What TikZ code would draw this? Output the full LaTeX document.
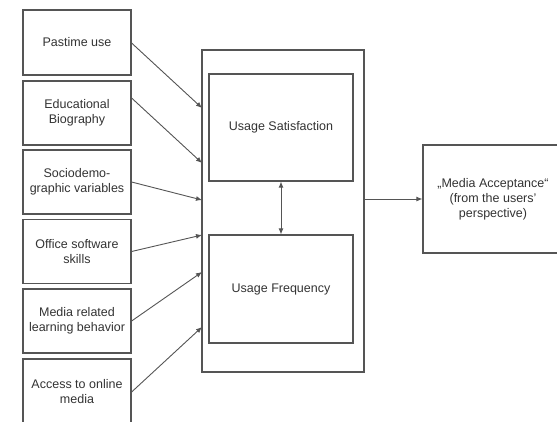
\documentclass[tikz,border=0pt]{standalone}
\usepackage{fontspec}
\setmainfont{Liberation Sans}
\usetikzlibrary{arrows.meta,calc}
\definecolor{ln}{HTML}{555555}
\definecolor{tx}{HTML}{333333}
\begin{document}
\begin{tikzpicture}[x=1pt,y=-1pt,
  box/.style={draw=ln,line width=1.2pt,rectangle,inner sep=0pt,align=center,
    text=tx,font=\fontsize{12.5}{15}\selectfont},
  leftbox/.style={box,minimum width=108pt,minimum height=64pt},
  conn/.style={draw=ln,line width=0.9pt,-{Latex[length=6pt,width=5pt]}},
  dconn/.style={draw=ln,line width=0.9pt,{Latex[length=6pt,width=5pt]}-{Latex[length=6pt,width=5pt]}}]
\useasboundingbox (0,0) rectangle (557,421);
\clip (0,0) rectangle (557,421);
\fill[white] (0,0) rectangle (557,421);
% left boxes
\node[leftbox,minimum height=65pt] (b1) at (77,42.5) {Pastime use};
\node[leftbox] (b2) at (77,113) {Educational\\Biography};
\node[leftbox] (b3) at (77,182) {Sociodemo-\\graphic variables};
\node[leftbox] (b4) at (77,251.5) {Office software\\skills};
\node[leftbox] (b5) at (77,321) {Media related\\learning behavior};
\node[leftbox,minimum height=66pt] (b6) at (77,392) {Access to online\\media};
% central boxes
\node[box,minimum width=162pt,minimum height=322pt] (outer) at (283,211) {};
\node[box,minimum width=144pt,minimum height=107pt] (sat) at (281,127.5) {Usage Satisfaction};
\node[box,minimum width=144pt,minimum height=108pt] (freq) at (281,289) {Usage Frequency};
\node[box,minimum width=140pt,minimum height=108pt] (media) at (493,199) {„Media Acceptance“\\(from the users’\\perspective)};
% entry points on the outer box
\coordinate (e1) at (202,108);
\coordinate (e2) at (202,163);
\coordinate (e3) at (202,200);
\coordinate (e4) at (202,235);
\coordinate (e5) at (202,272);
\coordinate (e6) at (202,327);
\draw[conn] ([yshift=-0.5pt]b1.east) -- (e1);
\draw[conn] ([yshift=15pt]b2.east) -- (e2);
\draw[conn] (b3.east) -- (e3);
\draw[conn] (b4.east) -- (e4);
\draw[conn] (b5.east) -- (e5);
\draw[conn] (b6.east) -- (e6);
\draw[dconn] (sat.south) -- (freq.north);
\draw[conn] (outer.east |- media.west) -- (media.west);
\end{tikzpicture}
\end{document}
